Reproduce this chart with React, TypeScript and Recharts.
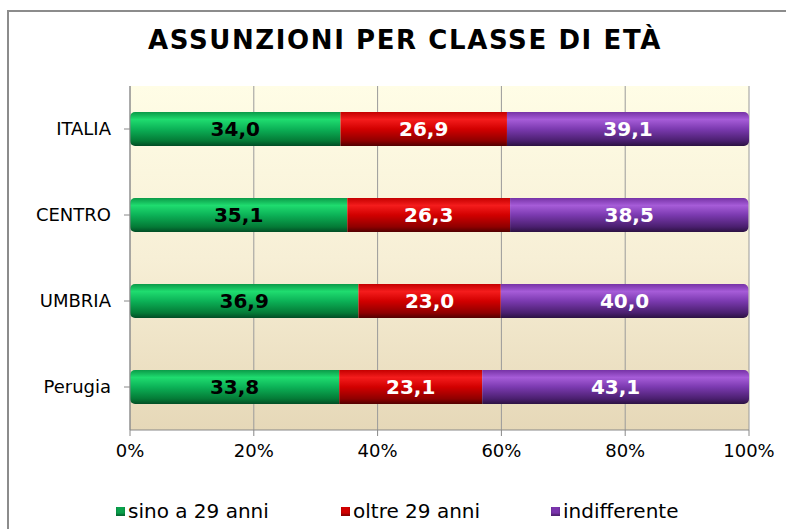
import React from 'react';
import { BarChart, Bar, XAxis, YAxis, CartesianGrid, LabelList } from 'recharts';

const categories = ['ITALIA', 'CENTRO', 'UMBRIA', 'Perugia'];
const sinoA29 = [34.0, 35.1, 36.9, 33.8];
const oltre29 = [26.9, 26.3, 23.0, 23.1];
const indifferente = [39.1, 38.5, 40.0, 43.1];
const xTicks = [0, 20, 40, 60, 80, 100];
const seriesNames = ['sino a 29 anni', 'oltre 29 anni', 'indifferente'];
const seriesKeys = ['sino', 'oltre', 'indiff'];
const seriesColors = ['#0aa14c', '#d20000', '#7a34ad'];
const legendX = [116, 341, 551];

const data = categories.map((name, i) => ({
  name,
  sino: sinoA29[i],
  oltre: oltre29[i],
  indiff: indifferente[i],
}));

const fmt = (v: any) => Number(v).toFixed(1).replace('.', ',');
const FONT = '"DejaVu Sans", Verdana, sans-serif';

export default function App() {
  return (
    <div style={{ position: 'absolute', left: 0, top: 0, width: 786, height: 529, overflow: 'hidden', background: '#fff' }}>
      <div style={{ position: 'absolute', left: 7, top: 10, width: 820, height: 560, border: '2px solid #8c8c8c', boxSizing: 'border-box' }} />
      <div style={{ position: 'absolute', left: 0, top: 25, width: 810, textAlign: 'center', fontFamily: FONT, fontWeight: 'bold', fontSize: 26, letterSpacing: 1.6, color: '#000', whiteSpace: 'nowrap' }}>
        ASSUNZIONI PER CLASSE DI ETÀ
      </div>
      <div style={{ position: 'absolute', left: 0, top: 0 }}>
        <BarChart
          width={786}
          height={529}
          data={data}
          layout="vertical"
          margin={{ top: 86, right: 37, bottom: 69, left: 10 }}
          barSize={34}
        >
          <defs>
            <linearGradient id="bgGrad" x1="0" y1="0" x2="0" y2="1">
              <stop offset="0%" stopColor="#fffde6" />
              <stop offset="50%" stopColor="#f7efd6" />
              <stop offset="100%" stopColor="#e6d8b8" />
            </linearGradient>
            <linearGradient id="gGreen" x1="0" y1="0" x2="0" y2="1">
              <stop offset="0%" stopColor="#0b9a48" />
              <stop offset="22%" stopColor="#1fdc6f" />
              <stop offset="50%" stopColor="#0cb257" />
              <stop offset="85%" stopColor="#047a36" />
              <stop offset="100%" stopColor="#024d25" />
            </linearGradient>
            <linearGradient id="gRed" x1="0" y1="0" x2="0" y2="1">
              <stop offset="0%" stopColor="#c40000" />
              <stop offset="22%" stopColor="#f41c1c" />
              <stop offset="50%" stopColor="#d20000" />
              <stop offset="85%" stopColor="#8e0000" />
              <stop offset="100%" stopColor="#520000" />
            </linearGradient>
            <linearGradient id="gPurple" x1="0" y1="0" x2="0" y2="1">
              <stop offset="0%" stopColor="#7633a6" />
              <stop offset="22%" stopColor="#a65cd8" />
              <stop offset="50%" stopColor="#7b3ab0" />
              <stop offset="85%" stopColor="#4a1f6e" />
              <stop offset="100%" stopColor="#2c1242" />
            </linearGradient>
          </defs>
          <CartesianGrid horizontal={false} stroke="#9a9a9a" fill="url(#bgGrad)" fillOpacity={1} />
          <XAxis
            type="number"
            domain={[0, 100]}
            ticks={xTicks}
            tickFormatter={(v: number) => `${v}%`}
            height={30}
            axisLine={{ stroke: '#888' }}
            tickLine={{ stroke: '#888' }}
            tickSize={6}
            tickMargin={8}
            tick={{ fill: '#000', fontSize: 18, fontFamily: FONT }}
            interval={0}
          />
          <YAxis
            type="category"
            dataKey="name"
            width={120}
            axisLine={{ stroke: '#888' }}
            tickLine={{ stroke: '#888' }}
            tickSize={6}
            tickMargin={13}
            tick={{ fill: '#000', fontSize: 18, fontFamily: FONT }}
          />
          <Bar dataKey="sino" stackId="a" fill="url(#gGreen)" radius={[5, 0, 0, 5]} isAnimationActive={false}>
            <LabelList dataKey="sino" position="center" formatter={fmt} fill="#000" style={{ fontSize: 20, fontWeight: 'bold', fontFamily: FONT }} />
          </Bar>
          <Bar dataKey="oltre" stackId="a" fill="url(#gRed)" isAnimationActive={false}>
            <LabelList dataKey="oltre" position="center" formatter={fmt} fill="#fff" style={{ fontSize: 20, fontWeight: 'bold', fontFamily: FONT }} />
          </Bar>
          <Bar dataKey="indiff" stackId="a" fill="url(#gPurple)" radius={[0, 5, 5, 0]} isAnimationActive={false}>
            <LabelList dataKey="indiff" position="center" formatter={fmt} fill="#fff" style={{ fontSize: 20, fontWeight: 'bold', fontFamily: FONT }} />
          </Bar>
        </BarChart>
      </div>
      {seriesNames.map((n, i) => (
        <div key={seriesKeys[i]} style={{ position: 'absolute', left: legendX[i], top: 498, height: 26, display: 'flex', alignItems: 'center', fontFamily: FONT, fontSize: 20, color: '#000', whiteSpace: 'nowrap' }}>
          <span style={{ display: 'inline-block', width: 9, height: 9, background: seriesColors[i], marginRight: 3, boxShadow: 'inset 0 -2px 2px rgba(0,0,0,0.35)' }} />
          {n}
        </div>
      ))}
    </div>
  );
}
